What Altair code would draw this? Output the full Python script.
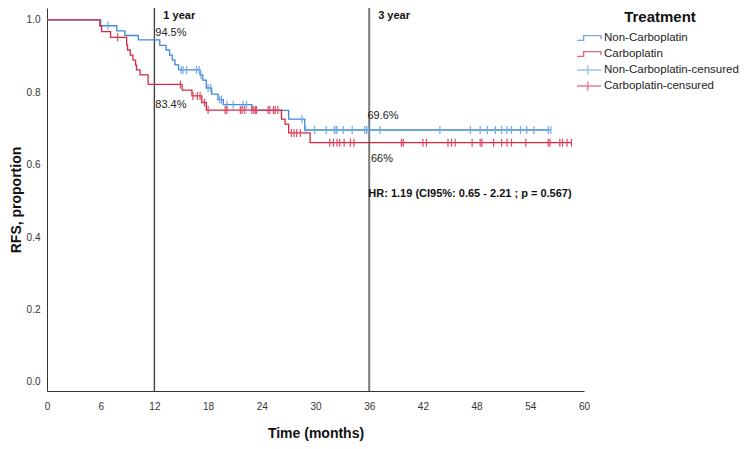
import altair as alt
import pandas as pd

FONT = "Liberation Sans"

legend_labels = ["Non-Carboplatin", "Carboplatin",
                 "Non-Carboplatin-censured", "Carboplatin-censured"]
legend_colors = ["#4088D8", "#D62845", "#72A9E6", "#E04762"]

# Kaplan-Meier step points (time in months, survival proportion)
blue_times = [0, 6.0, 7.8, 8.7, 10.2, 12.6, 13.3, 13.7, 14.0, 14.3, 14.7, 17.1, 17.4,
              17.8, 18.4, 19.1, 19.7, 22.9, 27.0, 28.8, 56.3]
blue_surv = [1.0, 0.984, 0.970, 0.957, 0.945, 0.930, 0.917, 0.903, 0.889, 0.876, 0.862,
             0.848, 0.834, 0.812, 0.795, 0.780, 0.766, 0.750, 0.726, 0.696, 0.696]
blue_censor = [6.8, 15.0, 15.2, 15.6, 16.7, 17.0, 17.2, 18.0, 18.3, 19.3, 19.5, 20.1, 20.8,
               21.9, 22.3, 28.5, 28.9, 29.9, 31.2, 32.1, 32.3, 32.4, 33.1, 34.1, 35.5, 35.7,
               35.9, 37.2, 43.9, 47.3, 48.4, 49.2, 50.1, 50.8, 51.4, 51.9, 52.9, 53.6, 54.4,
               56.0, 56.3]

red_times = [0, 5.9, 6.1, 7.1, 8.9, 9.0, 9.3, 9.6, 9.9, 10.0, 10.4, 11.3, 15.1, 16.2, 17.3,
             17.8, 26.2, 26.6, 27.0, 29.4, 58.6]
red_surv = [1.0, 0.984, 0.968, 0.952, 0.931, 0.917, 0.903, 0.889, 0.875, 0.862, 0.848, 0.822,
            0.806, 0.790, 0.772, 0.751, 0.726, 0.712, 0.688, 0.661, 0.661]
red_censor = [7.9, 14.9, 16.3, 16.8, 17.1, 17.6, 18.0, 19.9, 20.1, 21.6, 21.8, 22.1, 22.9,
              23.1, 23.3, 23.4, 24.7, 24.9, 25.3, 25.5, 25.8, 27.3, 27.6, 27.9, 28.3, 31.6,
              32.0, 32.4, 32.7, 33.2, 33.9, 34.3, 39.6, 39.8, 42.0, 42.4, 44.8, 45.2, 45.6,
              47.5, 48.4, 48.6, 49.9, 50.8, 51.4, 51.9, 53.5, 56.0, 56.2, 57.3, 57.6, 58.1, 58.6]

x_ticks = [0, 6, 12, 18, 24, 30, 36, 42, 48, 54, 60]
y_ticks = [0.0, 0.2, 0.4, 0.6, 0.8, 1.0]

year_lines = [12, 36]
year_labels = ["1 year", "3 year"]

pct_labels = ["94.5%", "83.4%", "69.6%", "66%"]
pct_t = [12.1, 12.1, 35.8, 36.2]
pct_s = [0.964, 0.765, 0.735, 0.615]
hr_text = "HR: 1.19 (CI95%: 0.65 - 2.21 ; p = 0.567)"


def km_value(times, surv, t):
    v = surv[0]
    for ti, si in zip(times, surv):
        if ti <= t:
            v = si
    return v


lines_df = pd.DataFrame(
    [{"t": t, "s": s, "grp": "Non-Carboplatin"} for t, s in zip(blue_times, blue_surv)]
    + [{"t": t, "s": s, "grp": "Carboplatin"} for t, s in zip(red_times, red_surv)]
)
cens_df = pd.DataFrame(
    [{"t": t, "s": km_value(blue_times, blue_surv, t), "grp": "Non-Carboplatin-censured"}
     for t in blue_censor]
    + [{"t": t, "s": km_value(red_times, red_surv, t), "grp": "Carboplatin-censured"}
       for t in red_censor]
)
pct_df = pd.DataFrame({"t": pct_t, "s": pct_s, "label": pct_labels})
year_df = pd.DataFrame({"t": [y + 1.0 for y in year_lines], "s": [1.011, 1.011],
                        "label": year_labels})
hr_df = pd.DataFrame({"t": [35.9], "s": [0.519], "label": [hr_text]})
legend_df = pd.DataFrame({"grp": legend_labels})

xs = alt.Scale(domain=[0, 60], nice=False, zero=False)
ys = alt.Scale(domain=[-0.025, 1.033], nice=False, zero=False)
stroke_scale = alt.Scale(domain=legend_labels, range=legend_colors)

# legend symbols: unit = 6 px (symbolSize 144), paths span 24 px wide
STEP = "M-2,0.4H-0.9V-0.4H2V0.2M0,-0.75L0,-0.75M0,0.75L0,0.75"
CROSS = "M-2,0H2M-0.2,-0.75V0.75"
shape_scale = alt.Scale(domain=legend_labels, range=[STEP, STEP, CROSS, CROSS])

X = alt.X("t:Q", scale=xs,
          axis=alt.Axis(values=x_ticks, title="Time (months)", grid=False, ticks=False,
                        labelFontSize=10, labelColor="#333", labelPadding=10,
                        labelFont=FONT, titleFont=FONT, titleFontSize=14,
                        titleFontWeight="bold", titleColor="#111", titlePadding=15,
                        domainColor="#333", labelFlush=False))
Y = alt.Y("s:Q", scale=ys,
          axis=alt.Axis(values=y_ticks, format=".1f", title="RFS, proportion", grid=False,
                        ticks=False, labelFontSize=10, labelColor="#333", labelPadding=7,
                        labelFont=FONT, titleFont=FONT, titleFontSize=14,
                        titleFontWeight="bold", titleColor="#111", titlePadding=3,
                        domainColor="#333"))

rule12 = alt.Chart(pd.DataFrame({"t": [year_lines[0]]})).mark_rule(
    color="#444444", strokeWidth=1.4).encode(x=alt.X("t:Q", scale=xs))
rule36 = alt.Chart(pd.DataFrame({"t": [year_lines[1]]})).mark_rule(
    color="#7a7a7a", strokeWidth=2).encode(x=alt.X("t:Q", scale=xs))

lines = alt.Chart(lines_df).mark_line(interpolate="step-after", strokeWidth=1.3).encode(
    x=X, y=Y,
    stroke=alt.Stroke("grp:N", scale=stroke_scale, legend=None),
    order=alt.Order("t:Q"),
)

cens = alt.Chart(cens_df).mark_point(shape="M0,-1V1", size=64, strokeWidth=1.2,
                                     filled=False, opacity=1).encode(
    x=alt.X("t:Q", scale=xs), y=alt.Y("s:Q", scale=ys),
    stroke=alt.Stroke("grp:N", scale=stroke_scale, legend=None),
)

leg = alt.Legend(title="Treatment", orient="none", legendX=535, legendY=2,
                 titleFont=FONT, titleFontSize=15, titleFontWeight="bold",
                 titleColor="#111", titleAnchor="middle", titlePadding=6,
                 labelFont=FONT, labelFontSize=11.5, labelColor="#222",
                 symbolSize=144, symbolStrokeWidth=1.4, rowPadding=0, labelOffset=8,
                 padding=0)
legend_layer = alt.Chart(legend_df).transform_filter("false").mark_point(
    filled=False, strokeWidth=1.4).encode(
    x=alt.X("t:Q", scale=xs), y=alt.Y("s:Q", scale=ys),
    stroke=alt.Stroke("grp:N", scale=stroke_scale, legend=leg),
    shape=alt.Shape("grp:N", scale=shape_scale, legend=leg),
)

pct = alt.Chart(pct_df).mark_text(align="left", baseline="middle", font=FONT,
                                  fontSize=11, color="#222").encode(
    x=alt.X("t:Q", scale=xs), y=alt.Y("s:Q", scale=ys), text="label:N")
years = alt.Chart(year_df).mark_text(align="left", baseline="middle", font=FONT,
                                     fontSize=11, fontWeight="bold", color="#111").encode(
    x=alt.X("t:Q", scale=xs), y=alt.Y("s:Q", scale=ys), text="label:N")
hr = alt.Chart(hr_df).mark_text(align="left", baseline="middle", font=FONT,
                                fontSize=11, fontWeight="bold", color="#111").encode(
    x=alt.X("t:Q", scale=xs), y=alt.Y("s:Q", scale=ys), text="label:N")

chart = alt.layer(rule12, rule36, lines, cens, legend_layer, pct, years, hr).resolve_legend(
    stroke="independent", shape="independent"
).properties(
    width=537, height=383,
    autosize=alt.AutoSizeParams(type="none"),
    padding={"left": 39, "top": 0, "right": 157, "bottom": 50},
    background="white",
).configure_view(stroke=None)

chart.save("out.html", embed_options={"renderer": "svg", "actions": False})
